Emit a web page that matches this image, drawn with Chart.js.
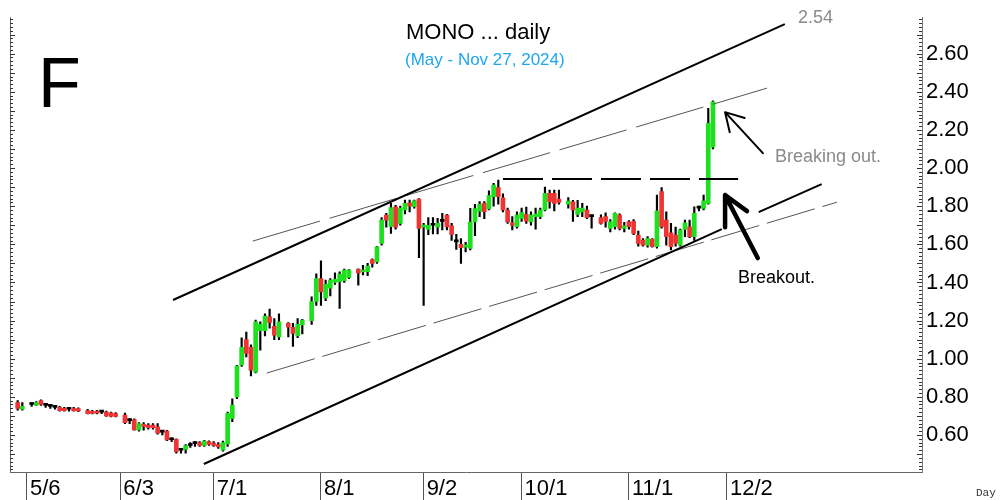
<!DOCTYPE html>
<html><head><meta charset="utf-8">
<script src="https://cdn.jsdelivr.net/npm/chart.js@4.4.1/dist/chart.umd.min.js"></script>
<style>html,body{margin:0;padding:0;background:#fff;overflow:hidden}</style>
</head><body>
<canvas id="c" width="1005" height="500"></canvas>
<script>
// ---- data (weekday index, 0 = Mon 5/6/2024) ----
const days   = [-2,-1,1,2,3,4,5,6,7,8,9,10,11,13,14,15,16,17,18,19,21,22,23,24,25,26,27,28,29,30,31,32,33,34,35,36,37,38,39,40,41,42,43,44,45,46,47,48,49,50,51,52,53,54,56,57,58,59,61,62,63,64,65,66,67,68,69,71,72,73,74,75,76,77,78,79,80,81,82,83,84,85,86,87,88,89,90,91,92,93,94,95,96,97,98,99,100,101,102,103,104,105,106,107,108,109,110,111,112,113,114,116,117,118,119,120,121,123,124,125,126,127,128,129,130,131,132,133,134,135,136,137,138,139,140,141,142,143,144,145,146,147];
const opens  = [.77,.735,.76,.757,.78,.755,.75,.745,.745,.74,.735,.738,.738,.728,.724,.726,.72,.72,.716,.713,.705,.675,.68,.627,.655,.652,.652,.643,.615,.62,.575,.577,.52,.524,.545,.555,.56,.545,.565,.558,.55,.52,.553,.687,.80,.967,1.10,1.06,.93,1.147,1.147,1.22,1.17,1.115,1.185,1.165,1.12,1.177,1.20,1.30,1.42,1.317,1.37,1.40,1.404,1.41,1.426,1.469,1.455,1.456,1.52,1.508,1.605,1.753,1.692,1.797,1.71,1.78,1.818,1.797,1.837,1.69,1.678,1.70,1.69,1.72,1.753,1.697,1.613,1.60,1.585,1.578,1.718,1.774,1.815,1.785,1.85,1.897,1.844,1.78,1.713,1.692,1.736,1.757,1.718,1.745,1.745,1.78,1.867,1.867,1.837,1.81,1.823,1.757,1.77,1.78,1.745,1.74,1.745,1.683,1.692,1.753,1.683,1.718,1.72,1.648,1.622,1.596,1.626,1.587,1.876,1.727,1.66,1.648,1.596,1.678,1.692,1.64,1.79,1.788,1.815,2.11];
const highs  = [.78,.77,.77,.775,.785,.765,.76,.755,.75,.745,.745,.745,.742,.735,.73,.73,.73,.725,.72,.718,.715,.685,.685,.665,.665,.66,.66,.66,.625,.625,.585,.58,.53,.55,.56,.565,.565,.572,.57,.565,.56,.568,.72,.79,.965,1.11,1.14,1.073,1.203,1.194,1.236,1.26,1.21,1.236,1.19,1.185,1.21,1.207,1.325,1.445,1.514,1.413,1.42,1.45,1.456,1.47,1.468,1.472,1.49,1.50,1.524,1.59,1.74,1.762,1.815,1.805,1.80,1.832,1.832,1.832,1.84,1.71,1.74,1.74,1.736,1.762,1.757,1.71,1.653,1.63,1.61,1.789,1.81,1.824,1.824,1.88,1.92,1.937,1.865,1.79,1.745,1.77,1.79,1.795,1.77,1.79,1.79,1.90,1.885,1.885,1.885,1.845,1.83,1.83,1.815,1.80,1.75,1.755,1.765,1.73,1.765,1.76,1.715,1.725,1.73,1.67,1.63,1.64,1.63,1.858,1.898,1.77,1.71,1.69,1.68,1.727,1.727,1.797,1.80,1.858,2.313,2.352];
const lows   = [.73,.73,.75,.755,.755,.745,.74,.735,.725,.725,.725,.725,.722,.71,.71,.71,.712,.698,.695,.695,.66,.66,.625,.62,.625,.63,.63,.605,.60,.57,.565,.505,.505,.505,.535,.54,.54,.54,.545,.54,.53,.515,.54,.67,.79,.96,1.01,.91,.925,1.045,1.12,1.16,1.10,1.10,1.115,1.065,1.11,1.13,1.18,1.28,1.28,1.305,1.33,1.39,1.264,1.40,1.42,1.386,1.44,1.435,1.48,1.50,1.595,1.69,1.657,1.68,1.70,1.76,1.77,1.79,1.53,1.28,1.65,1.655,1.655,1.675,1.675,1.62,1.573,1.50,1.56,1.57,1.645,1.745,1.735,1.78,1.80,1.81,1.77,1.71,1.675,1.685,1.72,1.71,1.70,1.68,1.735,1.775,1.79,1.775,1.81,1.79,1.72,1.745,1.745,1.735,1.685,1.705,1.69,1.665,1.68,1.675,1.665,1.68,1.65,1.59,1.59,1.585,1.585,1.58,1.685,1.595,1.57,1.59,1.59,1.64,1.635,1.62,1.775,1.78,1.81,2.10];
const closes = [.74,.75,.76,.77,.76,.755,.75,.745,.728,.728,.735,.728,.726,.712,.713,.714,.72,.70,.697,.697,.665,.675,.627,.66,.645,.638,.638,.61,.615,.574,.575,.513,.52,.545,.545,.555,.545,.568,.55,.545,.538,.56,.714,.757,.962,1.06,1.028,.94,1.194,1.18,1.224,1.19,1.124,1.194,1.165,1.133,1.18,1.203,1.30,1.42,1.35,1.39,1.413,1.416,1.444,1.465,1.465,1.45,1.462,1.486,1.50,1.587,1.727,1.727,1.793,1.69,1.79,1.815,1.80,1.828,1.683,1.70,1.70,1.70,1.71,1.72,1.692,1.652,1.613,1.582,1.595,1.716,1.788,1.81,1.771,1.855,1.91,1.85,1.78,1.718,1.70,1.753,1.767,1.722,1.753,1.76,1.78,1.867,1.823,1.815,1.82,1.827,1.78,1.79,1.79,1.74,1.745,1.71,1.72,1.718,1.762,1.683,1.697,1.692,1.657,1.605,1.596,1.63,1.587,1.776,1.692,1.64,1.587,1.605,1.675,1.713,1.64,1.762,1.79,1.828,2.234,2.347];

const tickDays   = [0, 20, 40, 63, 85, 106, 129, 150];
const tickLabels = ['5/6', '6/3', '7/1', '8/1', '9/2', '10/1', '11/1', '12/2'];
const priceTicks = [0.6, 0.8, 1.0, 1.2, 1.4, 1.6, 1.8, 2.0, 2.2, 2.4, 2.6];

// trend lines drawn on the chart [day, price]
const upperChannel  = [[31.3, 1.308], [162.4, 2.755]];
const lowerChannel  = [[37.9, 0.448], [148.9, 1.680], [152.8, null], [156.8, 1.769], [170.3, 1.916]];
const upperDashed   = [[48.4, 1.617], [158.6, 2.419]];
const lowerDashed   = [[51.4, 0.925], [173.6, 1.821]];
const resistance    = [[102.0, 1.942], [152.4, 1.942]];
// annotation arrows [tail, tip, wing1, wing2]
const arrowBreaking = [[157.7, 2.078], [149.6, 2.293], [153.8, 2.262], [150.6, 2.188]];
const arrowBreakout = [[156.6, 1.528], [149.6, 1.858], [154.3, 1.774], [149.6, 1.690]];

// ---- view ----
const X_MIN = -3.64, X_MAX = 191.8, Y_MIN = 0.406, Y_MAX = 2.791;
const UP = '#1EE01E', DOWN = '#F03434', FLAT = '#000000';
const bodyColors = days.map((d, k) => closes[k] > opens[k] ? UP : (closes[k] < opens[k] ? DOWN : FLAT));
const pts = arr => arr.map(p => ({x: p[0], y: p[1]}));

const lineDs = (arr, color, width, dash) => ({
  type: 'line', data: pts(arr), borderColor: color, borderWidth: width,
  borderDash: dash || [], pointRadius: 0, fill: false, spanGaps: false, order: 0, tension: 0
});

const annot = {
  id: 'annot',
  afterDraw(chart) {
    const {ctx, chartArea: ca, scales: {x, y}} = chart;
    ctx.save();
    // left axis line
    ctx.strokeStyle = '#666'; ctx.lineWidth = 1;
    ctx.beginPath(); ctx.moveTo(ca.left + 0.5, ca.top); ctx.lineTo(ca.left + 0.5, ca.bottom); ctx.stroke();
    // minor ticks on both price axes
    ctx.strokeStyle = '#333';
    for (let k = Math.ceil(Y_MIN / 0.02); k * 0.02 <= Y_MAX + 1e-9; k++) {
      const py = Math.round(y.getPixelForValue(k * 0.02)) + 0.5;
      const len = (k % 5 === 0) ? 5 : 3;
      ctx.beginPath();
      ctx.moveTo(ca.left, py); ctx.lineTo(ca.left + len, py);
      ctx.moveTo(ca.right, py); ctx.lineTo(ca.right - len, py);
      ctx.stroke();
    }
    // arrows
    const arrow = (a, w) => {
      const P = a.map(p => [x.getPixelForValue(p[0]), y.getPixelForValue(p[1])]);
      ctx.strokeStyle = '#000'; ctx.lineWidth = w; ctx.lineCap = 'round'; ctx.lineJoin = 'round';
      ctx.beginPath();
      ctx.moveTo(P[0][0], P[0][1]); ctx.lineTo(P[1][0], P[1][1]);
      ctx.moveTo(P[2][0], P[2][1]); ctx.lineTo(P[1][0], P[1][1]); ctx.lineTo(P[3][0], P[3][1]);
      ctx.stroke();
    };
    arrow(arrowBreaking, 2);
    arrow(arrowBreakout, 4.5);
    // texts
    ctx.textBaseline = 'alphabetic'; ctx.textAlign = 'left';
    ctx.fillStyle = '#000';
    ctx.font = '70px "Liberation Sans"'; ctx.fillText('F', 38, 107);
    ctx.font = '22px "Liberation Sans"'; ctx.fillText('MONO ... daily', 406, 39);
    ctx.fillStyle = '#1EA7F0';
    ctx.font = '17px "Liberation Sans"'; ctx.fillText('(May - Nov 27, 2024)', 405, 65);
    ctx.fillStyle = '#8a8a8a';
    ctx.font = '18px "Liberation Sans"'; ctx.fillText('2.54', 798, 23);
    ctx.fillText('Breaking out.', 775, 162);
    ctx.fillStyle = '#000';
    ctx.fillText('Breakout.', 738, 283);
    ctx.fillStyle = '#333';
    ctx.font = '11px "Liberation Mono"'; ctx.fillText('Day', 976, 496);
    ctx.restore();
  }
};

new Chart(document.getElementById('c'), {
  type: 'bar',
  data: {
    datasets: [
      lineDs(upperChannel, '#000', 2),
      lineDs(lowerChannel, '#000', 2),
      lineDs(upperDashed, '#555', 1, [70, 10]),
      lineDs(lowerDashed, '#555', 1, [50, 8]),
      lineDs(resistance, '#000', 2, [40, 9]),
      { type: 'bar', data: days.map((d, k) => ({x: d, y: [opens[k], closes[k]]})),
        backgroundColor: bodyColors, barThickness: 4, minBarLength: 2, grouped: false, order: 1 },
      { type: 'bar', data: days.map((d, k) => ({x: d, y: [lows[k], highs[k]]})),
        backgroundColor: '#000', barThickness: 1.5, grouped: false, order: 2 }
    ]
  },
  options: {
    responsive: false, animation: false,
    layout: {padding: {left: 10, top: 17, right: 0, bottom: 0}},
    plugins: {legend: {display: false}, tooltip: {enabled: false}},
    scales: {
      x: {
        type: 'linear', min: X_MIN, max: X_MAX, offset: false,
        afterBuildTicks: s => { s.ticks = tickDays.map(v => ({value: v})); },
        afterFit: s => { s.height = 28; },
        grid: {display: true, offset: false, drawOnChartArea: false, drawTicks: true, tickLength: 28, color: '#555'},
        border: {display: true, color: '#666', width: 1},
        ticks: {autoSkip: false, maxRotation: 0, align: 'start', labelOffset: 3, padding: -24,
                color: '#000', font: {family: 'Liberation Sans', size: 22},
                callback: v => tickLabels[tickDays.indexOf(v)]}
      },
      y: {
        type: 'linear', position: 'right', min: Y_MIN, max: Y_MAX, beginAtZero: false,
        afterBuildTicks: s => { s.ticks = priceTicks.map(v => ({value: v})); },
        afterFit: s => { s.width = 83; },
        grid: {display: false, drawTicks: false},
        border: {display: true, color: '#777', width: 1},
        ticks: {autoSkip: false, padding: 4, color: '#000', font: {family: 'Liberation Sans', size: 22},
                callback: v => v.toFixed(2)}
      }
    }
  },
  plugins: [annot]
});
</script>
</body></html>
